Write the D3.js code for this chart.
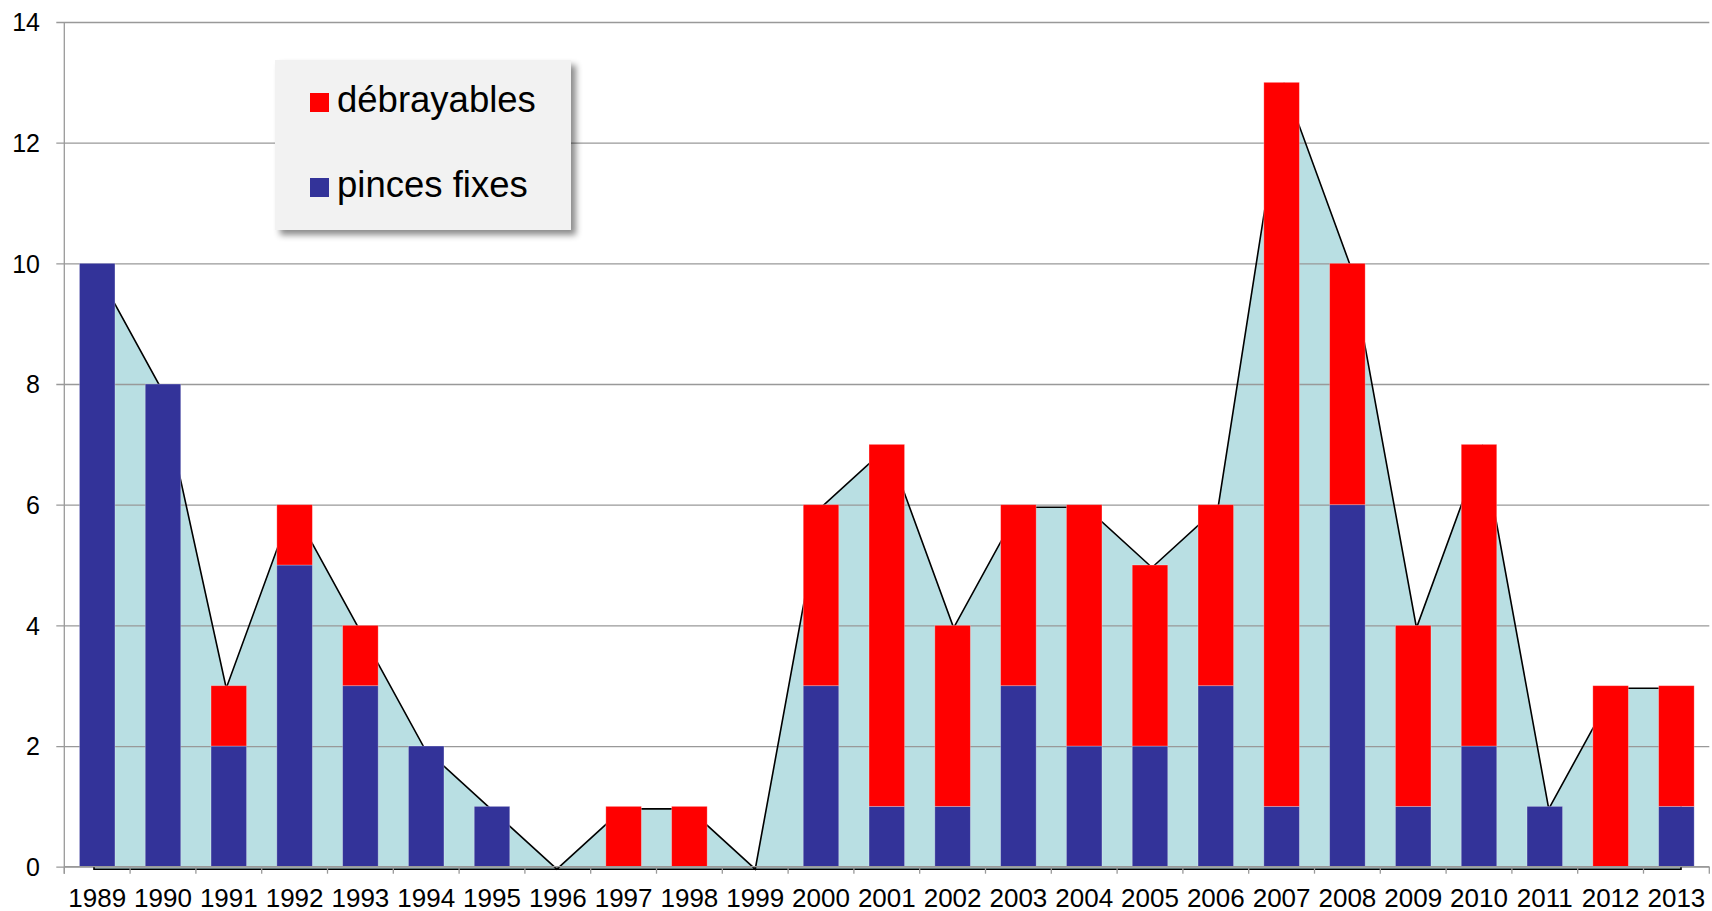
<!DOCTYPE html>
<html>
<head>
<meta charset="utf-8">
<script src="https://cdn.jsdelivr.net/npm/d3@7"></script>
<style>
  html, body { margin: 0; padding: 0; background: #fff; }
  svg { display: block; font-family: "Liberation Sans", Arial, sans-serif; }
</style>
</head>
<body>
<svg id="chart" width="1712" height="911"></svg>
<script>
// ---- data ----
const years = ["1989","1990","1991","1992","1993","1994","1995","1996","1997","1998","1999","2000","2001","2002","2003","2004","2005","2006","2007","2008","2009","2010","2011","2012","2013"];
const pincesFixes = [10,8,2,5,3,2,1,0,0,0,0,3,1,1,3,2,2,3,1,6,1,2,1,0,1];
const debrayables = [0,0,1,1,1,0,0,0,1,1,0,3,6,3,3,4,3,3,12,4,3,5,0,3,2];
const totals      = [10,8,3,6,4,2,1,0,1,1,0,6,7,4,6,6,5,6,13,10,4,7,1,3,3];
const yTicks = [0,2,4,6,8,10,12,14];
const seriesNames = ["débrayables", "pinces fixes"];

// ---- styles ----
const colBlue = "#333399", colRed = "#FF0000", colArea = "#B9DFE3";
const gridCol = "#999999";

const W = 1712, H = 911;
const plotLeft = 64.3, plotRight = 1709.3, plotTop = 22, plotBottom = 866.7;

const svg = d3.select("#chart");

const x = d3.scaleBand().domain(years).range([plotLeft, plotRight])
  .paddingInner(0.46).paddingOuter(0.23);
const y = d3.scaleLinear().domain([0, 14]).range([plotBottom, plotTop]);
// area drawn on a secondary (slightly offset) axis pair
const xa = d3.scalePoint().domain(years).range([plotLeft + 29.7, plotRight - 28.3]);
const ya = d3.scaleLinear().domain([0, 14]).range([plotBottom + 2.5, plotTop + 2.5]);

const rows = years.map((yr, i) => ({ year: yr, pinces: pincesFixes[i], deb: debrayables[i], total: totals[i] }));

// ---- area fill ----
const area = d3.area().x(d => xa(d.year)).y0(ya(0)).y1(d => ya(d.total));
svg.append("path").datum(rows).attr("d", area).attr("fill", colArea).attr("stroke", "none");

// ---- gridlines + y axis ----
const yAxis = d3.axisLeft(y).tickValues(yTicks).tickSize(plotRight - plotLeft + 8).tickPadding(0);
const gy = svg.append("g").attr("transform", `translate(${plotRight},0)`).call(yAxis);
gy.select(".domain").remove();
gy.selectAll(".tick line").attr("stroke", gridCol).attr("stroke-width", 1.3);
gy.selectAll(".tick text")
  .attr("x", -(plotRight - 40))
  .attr("dy", "0.35em")
  .attr("font-size", 25)
  .attr("font-family", "'Liberation Sans', Arial, sans-serif")
  .attr("fill", "#000");

// ---- area outline (closed) ----
const outline = rows.map(d => [xa(d.year), ya(d.total)]);
const closed = [[xa(years[0]), ya(0)], ...outline, [xa(years[years.length - 1]), ya(0)]];
svg.append("path")
  .attr("d", d3.line()(closed) + "Z")
  .attr("fill", "none").attr("stroke", "#000").attr("stroke-width", 1.6)
  .attr("stroke-linejoin", "miter");

// ---- stacked bars ----
const stack = d3.stack().keys(["pinces", "deb"]);
const stacked = stack(rows);
const colors = { pinces: colBlue, deb: colRed };
svg.append("g").selectAll("g").data(stacked).join("g")
  .attr("fill", s => colors[s.key])
  .selectAll("rect").data(s => s.filter(d => d[1] - d[0] > 0)).join("rect")
  .attr("x", d => x(d.data.year))
  .attr("width", x.bandwidth())
  .attr("y", d => y(d[1]))
  .attr("height", d => y(d[0]) - y(d[1]))
  .attr("stroke", "rgba(255,255,255,0.35)").attr("stroke-width", 0.8);

// ---- y axis line ----
svg.append("line").attr("x1", plotLeft).attr("x2", plotLeft)
  .attr("y1", plotTop).attr("y2", plotBottom + 7)
  .attr("stroke", gridCol).attr("stroke-width", 1.3);

// ---- x axis ----
const xAxis = d3.axisBottom(x).tickSize(0).tickPadding(0);
const gx = svg.append("g").attr("transform", `translate(0,${plotBottom})`).call(xAxis);
gx.select(".domain").attr("stroke", gridCol).attr("stroke-width", 1.3)
  .attr("d", `M${plotLeft},0H${plotRight}`);
gx.selectAll(".tick text")
  .attr("y", 40.5).attr("dy", 0)
  .attr("font-size", 26)
  .attr("font-family", "'Liberation Sans', Arial, sans-serif")
  .attr("fill", "#000");
const step = x.step();
const edges = years.map(yr => x(yr) - (step - x.bandwidth()) / 2).concat([plotRight]);
gx.selectAll("line.edge").data(edges).join("line").attr("class", "edge")
  .attr("x1", d => d).attr("x2", d => d).attr("y1", 0).attr("y2", 7)
  .attr("stroke", gridCol).attr("stroke-width", 1.3);

// ---- legend ----
const defs = svg.append("defs");
const f = defs.append("filter").attr("id", "shadow").attr("x", "-10%").attr("y", "-10%").attr("width", "130%").attr("height", "130%");
f.append("feDropShadow").attr("dx", 5).attr("dy", 5).attr("stdDeviation", 3)
  .attr("flood-color", "#000").attr("flood-opacity", 0.45);

const lg = svg.append("g").attr("transform", "translate(275,60)");
lg.append("rect").attr("width", 296).attr("height", 170).attr("fill", "#F2F2F2").attr("filter", "url(#shadow)");
const legendColors = [colRed, colBlue];
seriesNames.forEach((name, i) => {
  const by = 52 + i * 85;
  lg.append("rect").attr("x", 35).attr("y", by - 19).attr("width", 19).attr("height", 19).attr("fill", legendColors[i]);
  lg.append("text").attr("x", 62).attr("y", by).attr("font-size", 36.5)
    .attr("fill", "#000").text(name);
});
</script>
</body>
</html>
